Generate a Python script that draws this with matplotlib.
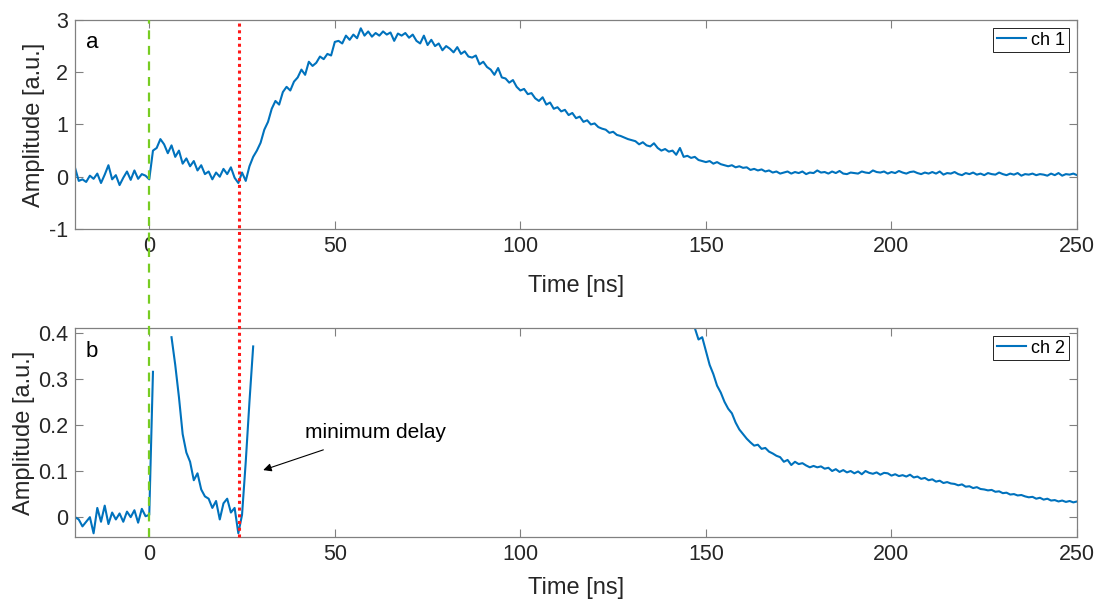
import matplotlib.pyplot as plt
import matplotlib.transforms as mtransforms
from matplotlib.lines import Line2D
from matplotlib.ticker import FuncFormatter
import numpy as np

plt.rcParams['font.family'] = ['Liberation Sans', 'DejaVu Sans']
plt.rcParams['axes.unicode_minus'] = False

# channel 1, sampled every 1 ns from -20 to 250 ns
t1 = np.arange(-20, 251)
ch1 = [
    0.17, -0.08, -0.05, -0.1, 0.02, -0.04, 0.06, -0.12, 0.04, 0.22,
    -0.05, 0.03, -0.16, -0.02, 0.1, -0.06, 0.12, -0.04, 0.05, 0.02,
    -0.05,
    0.5, 0.55, 0.72, 0.62, 0.45, 0.6, 0.38, 0.5, 0.25, 0.35,
    0.2, 0.3, 0.12, 0.22, 0.05, 0.1, -0.05, 0.08, 0.0, 0.15,
    0.05, 0.18, -0.02, -0.12, 0.08, -0.08, 0.2, 0.38, 0.5, 0.65,
    0.9, 1.05, 1.3, 1.45, 1.38, 1.62, 1.72, 1.65, 1.82, 1.9,
    2.05, 1.95, 2.2, 2.12, 2.18, 2.3, 2.25, 2.35, 2.32, 2.58,
    2.6, 2.55, 2.7, 2.62, 2.72, 2.65, 2.84, 2.7, 2.78, 2.68,
    2.75, 2.7, 2.78, 2.72, 2.76, 2.6, 2.74, 2.7, 2.75, 2.66,
    2.72, 2.6, 2.55, 2.7, 2.52, 2.62, 2.5, 2.55, 2.42, 2.5,
    2.45, 2.38, 2.48, 2.35, 2.4, 2.3, 2.28, 2.32, 2.15, 2.2,
    2.1, 2.05, 1.95, 2.08, 1.9, 1.88, 1.8, 1.85, 1.72, 1.65,
    1.68, 1.58, 1.6, 1.5, 1.45, 1.52, 1.38, 1.42, 1.3, 1.33,
    1.25, 1.28, 1.18, 1.22, 1.12, 1.15, 1.05, 1.08, 1.0, 1.02,
    0.95, 0.92, 0.9, 0.84, 0.86, 0.8, 0.78, 0.75, 0.72, 0.7,
    0.68, 0.62, 0.66, 0.6, 0.58, 0.64, 0.55, 0.5, 0.53, 0.48,
    0.5, 0.42, 0.55, 0.38, 0.4, 0.36, 0.38, 0.32, 0.3, 0.28,
    0.3, 0.25, 0.28, 0.24, 0.22, 0.2, 0.22, 0.18, 0.2, 0.17,
    0.18, 0.13, 0.15, 0.12, 0.14, 0.1, 0.12, 0.08, 0.1, 0.06,
    0.08, 0.1, 0.06, 0.09, 0.07, 0.1, 0.05, 0.08, 0.07, 0.12,
    0.08, 0.09, 0.06, 0.1, 0.07, 0.11, 0.06, 0.05, 0.08, 0.07,
    0.06, 0.1, 0.08, 0.07, 0.12, 0.09, 0.08, 0.1, 0.06, 0.09,
    0.07, 0.11, 0.08, 0.06, 0.09, 0.1, 0.07, 0.05, 0.08, 0.06,
    0.09, 0.06, 0.1, 0.04, 0.07, 0.06, 0.09, 0.05, 0.03, 0.07,
    0.05, 0.08, 0.04, 0.06, 0.03, 0.07, 0.05, 0.04, 0.08, 0.05,
    0.03, 0.06, 0.04, 0.07, 0.02, 0.05, 0.04, 0.06, 0.03, 0.05,
    0.04, 0.02, 0.06, 0.03, 0.07, 0.02, 0.05, 0.04, 0.06, 0.03,
]

# channel 2 (zoomed), nan where the trace leaves the plotted range
t2_early = np.arange(-20, 29)
ch2_early = [
    0.0, -0.005, -0.02, -0.01, 0.0, -0.035, 0.02, -0.01, 0.025, -0.015,
    0.01, -0.005, 0.008, -0.01, 0.012, 0.0, 0.015, -0.012, 0.018, 0.002,
    0.005, 0.315, np.nan, np.nan, np.nan, np.nan,
    0.39, 0.33, 0.26, 0.18, 0.14, 0.12, 0.08, 0.095, 0.06, 0.045,
    0.04, 0.02, 0.035, -0.005, 0.03, 0.04, 0.01, 0.02, -0.035, 0.005,
    0.12, 0.25, 0.37,
]
t2_late = np.arange(147, 251)
ch2_late = [
    0.41, 0.385, 0.39, 0.36, 0.33, 0.31, 0.285, 0.27, 0.25, 0.235,
    0.225, 0.205, 0.19, 0.18, 0.17, 0.162, 0.155, 0.157, 0.148, 0.15,
    0.142, 0.138, 0.133, 0.13, 0.12, 0.124, 0.113, 0.12, 0.115, 0.117,
    0.112, 0.108, 0.111, 0.108, 0.11, 0.105, 0.107, 0.1, 0.104, 0.098,
    0.102, 0.097, 0.1, 0.095, 0.099, 0.093, 0.1, 0.096, 0.094, 0.097,
    0.092, 0.096, 0.095, 0.09, 0.093, 0.089, 0.091, 0.088, 0.092, 0.086,
    0.088, 0.083, 0.085, 0.08, 0.082, 0.077, 0.079, 0.074, 0.076, 0.073,
    0.072, 0.069, 0.071, 0.066, 0.067, 0.063, 0.065, 0.061, 0.06, 0.058,
    0.059, 0.055, 0.056, 0.052, 0.053, 0.049, 0.05, 0.047, 0.048, 0.045,
    0.043, 0.044, 0.04, 0.042, 0.038, 0.04, 0.036, 0.037, 0.034, 0.036,
    0.033, 0.035, 0.032, 0.034,
]

t_trigger = 0.0
t_min_delay = 24.3

blue = '#0072BD'
grey = '#808080'
txt = '#262626'

fig = plt.figure(figsize=(10.97, 6.01), dpi=100)
ax1 = fig.add_axes([0.0684, 0.619, 0.9134, 0.3478])
ax2 = fig.add_axes([0.0684, 0.1065, 0.9134, 0.3478])

ax1.plot(t1, ch1, color=blue, lw=1.5, label='ch 1')
t2 = np.concatenate([t2_early, [np.nan], t2_late])
ch2 = np.concatenate([ch2_early, [np.nan], ch2_late])
ax2.plot(t2, ch2, color=blue, lw=1.5, label='ch 2')

ax1.set_ylim(-1, 3)
ax1.set_yticks([-1, 0, 1, 2, 3])
ax2.set_ylim(-0.043, 0.41)
ax2.set_yticks([0, 0.1, 0.2, 0.3, 0.4])
ax2.yaxis.set_major_formatter(FuncFormatter(lambda v, p: '%g' % round(v, 2)))

for ax, letter, ylab_x, lpad in [(ax1, 'a', -0.030, 13), (ax2, 'b', -0.040, 9)]:
    ax.set_xlim(-20, 250)
    ax.set_xticks([0, 50, 100, 150, 200, 250])
    ax.set_xlabel('Time [ns]', fontsize=17, color=txt, labelpad=lpad)
    ax.set_ylabel('Amplitude [a.u.]', fontsize=17, color=txt)
    ax.yaxis.set_label_coords(ylab_x, 0.5)
    ax.tick_params(direction='in', length=6, width=0.8, color=grey,
                   labelcolor=txt, labelsize=15.5, top=True, right=True, pad=5)
    for s in ax.spines.values():
        s.set_color(grey)
        s.set_linewidth(0.9)
    ax.text(0.011, 0.94, letter, transform=ax.transAxes, fontsize=16,
            ha='left', va='top', color='black')
    leg = ax.legend(loc='upper right', fontsize=13, fancybox=False,
                    edgecolor='black', framealpha=1, handlelength=1.6,
                    handletextpad=0.3, borderpad=0.2, borderaxespad=0.45)
    leg.get_frame().set_linewidth(0.6)

ax2.annotate('minimum delay', xy=(30.7, 0.102), xytext=(42, 0.184),
             fontsize=15, color='black', ha='left', va='center',
             arrowprops=dict(arrowstyle='-|>', color='black', lw=0.8,
                             shrinkA=12, shrinkB=0, mutation_scale=12))

# markers spanning both panels
trans = mtransforms.blended_transform_factory(ax1.transData, fig.transFigure)
y_bot = ax2.get_position().y0
y_top = ax1.get_position().y1
fig.add_artist(Line2D([t_trigger, t_trigger], [y_bot, y_top], transform=trans,
                      color='#77cc22', lw=1.6, ls=(0, (4, 3)), zorder=5))
fig.add_artist(Line2D([t_min_delay, t_min_delay], [y_bot, y_top], transform=trans,
                      color='#ff1a1a', lw=2.2, ls=(0, (1, 1.2)), zorder=5))

fig.savefig('out.png', dpi=100)
